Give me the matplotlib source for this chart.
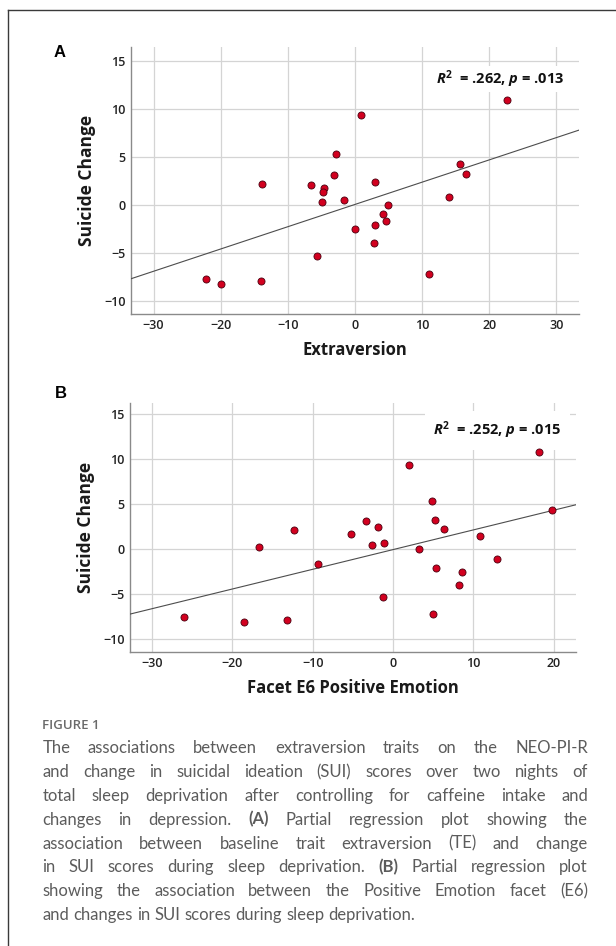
import numpy as np
import matplotlib
matplotlib.use("Agg")
import matplotlib.pyplot as plt
from matplotlib.lines import Line2D

plt.rcParams['font.family'] = ['Open Sans', 'DejaVu Sans']
plt.rcParams['mathtext.fontset'] = 'custom'
plt.rcParams['mathtext.it'] = 'Open Sans:italic:bold'
plt.rcParams['mathtext.rm'] = 'Open Sans:bold'
plt.rcParams['mathtext.bf'] = 'Open Sans:bold'

# ---- data ----
# Panel A: extraversion vs suicide change (partial residuals)
extra_x = [-13.8, -6.6, -5.7, -22.2, -19.9, -14.0, -4.6, -4.7, -4.9, -2.8,
           -3.1, -1.6, 0.85, 0.0, 3.0, 4.9, 4.2, 4.6, 3.0, 2.8,
           11.0, 14.0, 15.7, 16.6, 22.7]
extra_y = [2.2, 2.1, -5.3, -7.7, -8.2, -7.9, 1.7, 1.3, 0.25, 5.3,
           3.1, 0.45, 9.4, -2.5, 2.4, 0.0, -1.0, -1.7, -2.15, -4.0,
           -7.25, 0.8, 4.3, 3.2, 10.9]
fit_a = (0.232, 0.04)          # slope, intercept
stat_a = "$R^2$  = .262, $p$ = .013"

# Panel B: facet E6 positive emotion vs suicide change
e6_x = [-26.0, -18.5, -13.2, -16.7, -12.3, -9.3, -5.2, -3.3, -1.9, -2.6,
        -1.1, -1.2, 2.0, 3.2, 4.9, 5.2, 6.4, 5.4, 5.0, 8.6,
        8.2, 10.9, 13.0, 18.2, 19.8]
e6_y = [-7.6, -8.1, -7.9, 0.2, 2.1, -1.7, 1.7, 3.1, 2.4, 0.4,
        0.7, -5.3, 9.3, 0.0, 5.3, 3.2, 2.2, -2.15, -7.2, -2.5,
        -4.0, 1.4, -1.1, 10.8, 4.3]
fit_b = (0.2187, -0.057)
stat_b = "$R^2$  = .252, $p$ = .015"

y_ticks = [-10, -5, 0, 5, 10, 15]
xticks_a = [-30, -20, -10, 0, 10, 20, 30]
xticks_b = [-30, -20, -10, 0, 10, 20]

caption_lines = [
    "The associations between extraversion traits on the NEO-PI-R",
    "and change in suicidal ideation (SUI) scores over two nights of",
    "total sleep deprivation after controlling for caffeine intake and",
    "changes in depression. (A) Partial regression plot showing the",
    "association between baseline trait extraversion (TE) and change",
    "in SUI scores during sleep deprivation. (B) Partial regression plot",
    "showing the association between the Positive Emotion facet (E6)",
    "and changes in SUI scores during sleep deprivation.",
]
bold_words = ["(A)", "(B)"]

W, H = 616, 946
fig = plt.figure(figsize=(W / 100, H / 100), dpi=100)

def px_axes(l, r, t, b):
    return fig.add_axes([l / W, 1 - b / H, (r - l) / W, (b - t) / H])

def style(ax, xs, xlim, ylim, xlabel, lab_y):
    ax.set_xlim(*xlim)
    ax.set_ylim(*ylim)
    ax.set_xticks(xs)
    ax.set_yticks(y_ticks)
    ax.grid(True, color='#d4d4d4', lw=0.9, zorder=0)
    ax.set_axisbelow(True)
    for s in ['top', 'right']:
        ax.spines[s].set_visible(False)
    for s in ['left', 'bottom']:
        ax.spines[s].set_color('#8a8a8a')
        ax.spines[s].set_linewidth(1.0)
    ax.tick_params(length=0, pad=3.5, labelsize=9, labelcolor='#222222')
    for lab in ax.get_xticklabels() + ax.get_yticklabels():
        lab.set_fontweight('semibold')
    ax.set_xlabel(xlabel, fontsize=12, fontweight='bold', color='#1a1a1a')
    ax.set_ylabel("Suicide Change", fontsize=12.5, fontweight='bold', color='#1a1a1a')
    ax.xaxis.set_label_coords(0.5, lab_y)
    ax.yaxis.set_label_coords(-0.078, 0.5)

def panel(ax, x, y, fit, stat, stat_pos, pad):
    ax.scatter(x, y, s=26, color='#d2001f', edgecolor='#4a0010', linewidth=0.6, zorder=4)
    xl = np.array(ax.get_xlim())
    ax.plot(xl, fit[0] * xl + fit[1], color='#4d4d4d', lw=0.8, zorder=3)
    ax.text(stat_pos[0], stat_pos[1], stat, fontsize=10.5, fontweight='bold', ha='center',
            va='center', color='#111111', zorder=2,
            bbox=dict(boxstyle='square,pad=%.2f' % pad, fc='white', ec='none'))

axA = px_axes(130.7, 579.3, 47.3, 314.3)
style(axA, xticks_a, (-33.4, 33.4), (-11.4, 16.4), "Extraversion", -0.100)
panel(axA, extra_x, extra_y, fit_a, stat_a, (21.6, 13.1), 0.12)

axB = px_axes(129.7, 576.0, 403.3, 651.7)
style(axB, xticks_b, (-32.8, 22.8), (-11.4, 16.2), "Facet E6 Positive Emotion", -0.108)
panel(axB, e6_x, e6_y, fit_b, stat_b, (13.0, 13.2), 0.6)

fig.text(54 / W, 1 - 57 / H, "A", fontsize=12, fontweight='bold', family='Liberation Sans')
fig.text(55 / W, 1 - 398 / H, "B", fontsize=12, fontweight='bold', family='Liberation Sans')

# frame (top and left edges only)
fig.add_artist(Line2D([8 / W, 8 / W], [0, 1 - 10 / H], color='#3a3a3a', lw=1.0))
fig.add_artist(Line2D([8 / W, 1], [1 - 10 / H, 1 - 10 / H], color='#3a3a3a', lw=1.0))

# caption
fig.text(42.3 / W, 1 - 728.7 / H, "FIGURE 1", fontsize=9.5, fontweight='semibold',
         color='#6a6a6a', va='baseline', family='Open Sans')

renderer = fig.canvas.get_renderer()
cap_kw = dict(fontsize=12.0, color='#5c5c5c', va='baseline', family='Lato')
x_left, x_right = 42.3, 588.0
sp1 = fig.text(0, 0, "a a", **cap_kw)
sp2 = fig.text(0, 0, "aa", **cap_kw)
space_w = sp1.get_window_extent(renderer).width - sp2.get_window_extent(renderer).width
sp1.remove()
sp2.remove()
for i, line in enumerate(caption_lines):
    yb = 753.3 + i * 23.8
    words = line.split()
    objs = []
    for w in words:
        wt = 'bold' if w in bold_words else 'normal'
        objs.append(fig.text(0, 1 - yb / H, w, fontweight=wt, **cap_kw))
    widths = [o.get_window_extent(renderer).width for o in objs]
    if i < len(caption_lines) - 1:
        gap = (x_right - x_left - sum(widths)) / (len(words) - 1)
    else:
        gap = space_w
    xpos = x_left
    for o, wd in zip(objs, widths):
        o.set_x(xpos / W)
        xpos += wd + gap

fig.savefig("out.png", dpi=100)
